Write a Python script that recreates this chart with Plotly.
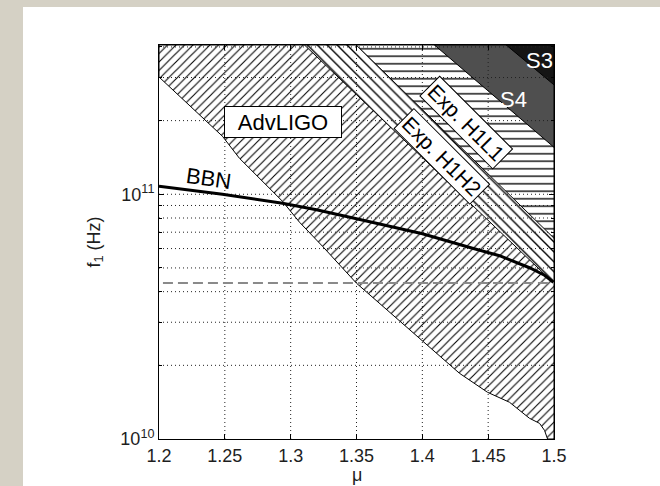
import math
import plotly.graph_objects as go

# ---------------- data ----------------
x_ticks = [1.2, 1.25, 1.3, 1.35, 1.4, 1.45, 1.5]
x_tick_text = ["1.2", "1.25", "1.3", "1.35", "1.4", "1.45", "1.5"]
y_major = [1e10, 1e11]
y_major_text = ["10<sup>10</sup>", "10<sup>11</sup>"]
y_minor = [2e10, 3e10, 4e10, 5e10, 6e10, 7e10, 8e10, 9e10, 2e11, 3e11, 4e11]

mu_min, mu_max = 1.2, 1.5
f_min, f_top = 1e10, 10 ** 11.61

# AdvLIGO lower boundary
adv_mu = [1.2, 1.2482, 1.2611, 1.2938, 1.3067, 1.3242, 1.35, 1.3751, 1.4001,
          1.4282, 1.4495, 1.4662, 1.4814, 1.4890, 1.4928, 1.4951]
adv_f = [3.015e11, 1.726e11, 1.403e11, 9.36e10, 7.69e10, 6.13e10, 4.33e10, 3.295e10,
         2.53e10, 1.856e10, 1.552e10, 1.413e10, 1.215e10, 1.159e10, 1.085e10, 1.0e10]

# straight boundaries (top of axes -> right edge)
h1h2_mu = [1.3105, 1.5]
h1h2_f = [f_top, 4.33e10]
h1l1_mu = [1.3498, 1.5]
h1l1_f = [f_top, 6.61e10]
s4_mu = [1.4092, 1.5]
s4_f = [f_top, 1.556e11]
s3_mu = [1.4637, 1.5]
s3_f = [f_top, 2.80e11]

# BBN curve
bbn_mu = [1.2, 1.2482, 1.2938, 1.3196, 1.35, 1.4001, 1.4381, 1.4586, 1.4814, 1.4928, 1.4996]
bbn_f = [1.078e11, 1.0e11, 9.19e10, 8.65e10, 7.94e10, 6.90e10, 6.02e10, 5.61e10,
         5.01e10, 4.67e10, 4.37e10]

# dashed reference level
dash_mu = [1.203, 1.5]
dash_f = [4.34e10, 4.34e10]

FONT = "Liberation Sans, Arial, Helvetica, sans-serif"
TXT = "#1e1e1e"

fig = go.Figure()


def region(mu, f, extra_mu, extra_f, **kw):
    xs = list(mu) + extra_mu + [mu[0]]
    ys = list(f) + extra_f + [f[0]]
    fig.add_trace(go.Scatter(x=xs, y=ys, mode="lines", fill="toself",
                             line=dict(color="black", width=1), hoverinfo="skip",
                             showlegend=False, **kw))


# AdvLIGO hatched region
region(adv_mu, adv_f, [mu_max, mu_max, mu_min], [f_min, f_top, f_top],
       fillcolor="white",
       fillpattern=dict(shape="/", size=6, solidity=0.18, fgcolor="black",
                        bgcolor="white", fillmode="replace"))
# Exp. H1H2 band
region(h1h2_mu, h1h2_f, [mu_max], [f_top],
       fillcolor="white",
       fillpattern=dict(shape="\\", size=7, solidity=0.2, fgcolor="black",
                        bgcolor="white", fillmode="replace"))
# Exp. H1L1 region
region(h1l1_mu, h1l1_f, [mu_max], [f_top],
       fillcolor="white",
       fillpattern=dict(shape="-", size=7.5, solidity=0.18, fgcolor="black",
                        bgcolor="white", fillmode="replace"))
# S4
region(s4_mu, s4_f, [mu_max], [f_top], fillcolor="#4f4f4f")
# S3
region(s3_mu, s3_f, [mu_max], [f_top], fillcolor="#151515")

# grid lines (dotted) drawn above the filled regions
grid_line = dict(color="#222222", width=1, dash="1px,3px")
gx, gy = [], []
for xv in x_ticks[1:-1]:
    gx += [xv, xv, None]
    gy += [f_min, f_top, None]
fig.add_trace(go.Scatter(x=gx, y=gy, mode="lines", hoverinfo="skip", showlegend=False,
                         line=grid_line))
hx, hy = [], []
for yv in y_minor + y_major[1:]:
    hx += [mu_min, mu_max, None]
    hy += [yv, yv, None]
fig.add_trace(go.Scatter(x=hx, y=hy, mode="lines", hoverinfo="skip", showlegend=False,
                         line=grid_line))

# dashed level
fig.add_trace(go.Scatter(x=dash_mu, y=dash_f, mode="lines", hoverinfo="skip",
                         showlegend=False,
                         line=dict(color="#8a8a8a", width=2, dash="10px,5px")))
# BBN curve
fig.add_trace(go.Scatter(x=bbn_mu, y=bbn_f, mode="lines", hoverinfo="skip",
                         showlegend=False, line=dict(color="black", width=3)))

# page geometry helpers
W, H = 660, 486
L, R, T, B = 159, 106, 45, 47
pw, ph = W - L - R, H - T - B


def px_x(p):
    return (p - L) / pw


def px_y(p):
    return (H - B - p) / ph


big = dict(family=FONT, size=22, color="black")
annotations = [
    dict(x=1.2942, y=math.log10(1.97e11), text="AdvLIGO", showarrow=False,
         font=big, bgcolor="white",
         bordercolor="black", borderwidth=1, borderpad=1, width=114, height=28),
    dict(x=1.4332, y=math.log10(1.96e11), text="Exp. H1L1", showarrow=False,
         font=dict(family=FONT, size=21, color="black"), bgcolor="white",
         bordercolor="black", borderwidth=1, borderpad=2, textangle=45),
    dict(x=1.4150, y=math.log10(1.43e11), text="Exp. H1H2", showarrow=False,
         font=dict(family=FONT, size=21, color="black"), bgcolor="white",
         bordercolor="black", borderwidth=1, borderpad=2, textangle=45),
    dict(x=1.2376, y=math.log10(1.16e11), text="BBN", showarrow=False,
         font=big, textangle=8),
    dict(x=1.4696, y=math.log10(2.45e11), text="S4", showarrow=False,
         font=dict(family=FONT, size=22, color="white")),
    dict(x=1.489, y=math.log10(3.51e11), text="S3", showarrow=False,
         font=dict(family=FONT, size=22, color="white")),
    # x-axis title
    dict(xref="paper", yref="paper", x=0.5, y=px_y(475), yanchor="middle",
         text="μ", showarrow=False, font=dict(family=FONT, size=18, color=TXT)),
]

shapes = [
    dict(type="rect", xref="paper", yref="paper", x0=px_x(0), x1=px_x(23),
         y0=px_y(H), y1=px_y(0), fillcolor="#d5d1c5", line=dict(width=0), layer="below"),
    dict(type="rect", xref="paper", yref="paper", x0=px_x(0), x1=px_x(W),
         y0=px_y(7), y1=px_y(0), fillcolor="#d5d1c5", line=dict(width=0), layer="below"),
]

fig.update_layout(
    width=W, height=H,
    margin=dict(l=L, r=R, t=T, b=B, pad=0, autoexpand=False),
    paper_bgcolor="white", plot_bgcolor="white",
    annotations=annotations, shapes=shapes,
    font=dict(family=FONT, size=18, color=TXT),
    showlegend=False,
)
fig.update_xaxes(
    range=[mu_min, mu_max], tickvals=x_ticks, ticktext=x_tick_text, automargin=False,
    ticks="inside", ticklen=5, tickcolor="black", showgrid=False, zeroline=False,
    showline=True, linecolor="black", linewidth=1, mirror="ticks",
    tickfont=dict(family=FONT, size=18, color=TXT),
)
fig.update_yaxes(
    type="log", range=[10, 11.61], tickvals=y_major, ticktext=y_major_text,
    automargin=False,
    ticks="inside", ticklen=5, tickcolor="black", showgrid=False, zeroline=False,
    showline=True, linecolor="black", linewidth=1, mirror="ticks",
    minor=dict(tickvals=y_minor, ticks="inside", ticklen=3, tickcolor="black",
               showgrid=False),
    tickfont=dict(family=FONT, size=18, color=TXT),
    title=dict(text="f<sub>1</sub> (Hz)", font=dict(family=FONT, size=18, color=TXT),
               standoff=15),
)

fig.write_html("out.html",
               config={"displayModeBar": False},
               post_script="document.body.style.margin='0px';"
                           "document.body.style.padding='0px';")
